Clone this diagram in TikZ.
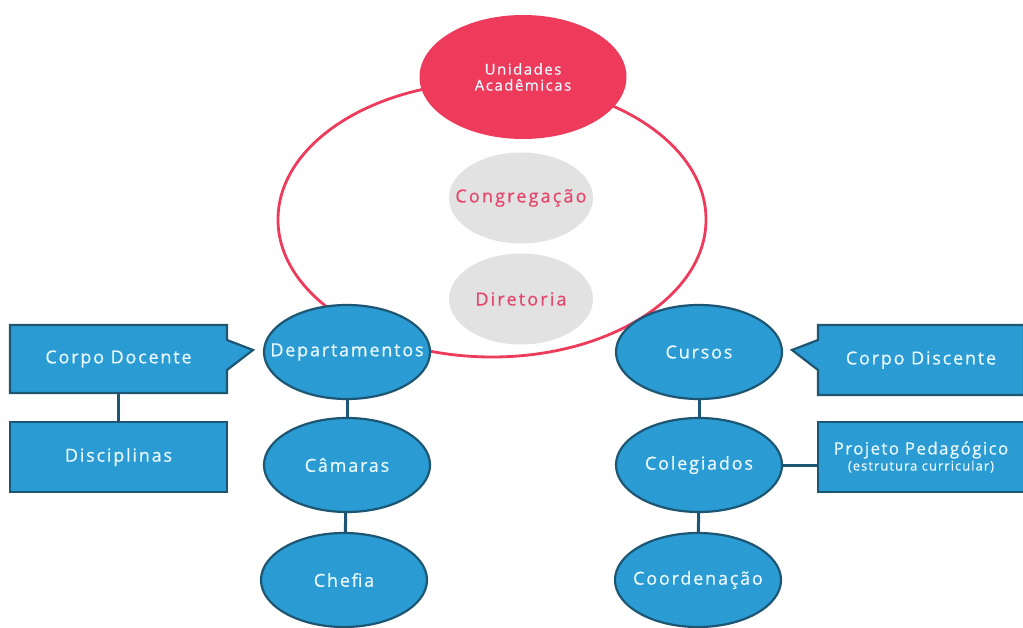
\documentclass[tikz,border=0pt]{standalone}
\usepackage{fontspec}
\setmainfont{Open Sans}[LetterSpace=10,FakeBold=0.6]
\usetikzlibrary{shapes.geometric,shapes.callouts}
\definecolor{bfill}{HTML}{2A9CD3}
\definecolor{bline}{HTML}{1D5673}
\definecolor{rcol}{HTML}{EE3B5B}
\definecolor{gfill}{HTML}{E2E2E2}
\definecolor{gtext}{HTML}{E4466C}
\definecolor{wtext}{HTML}{EAF8FF}
\newcommand{\cz}[1]{\makebox[0pt][c]{#1}}
\tikzset{
  bell/.style={ellipse, draw=bline, line width=2.2pt, fill=bfill, minimum width=166pt, minimum height=94pt, inner sep=0pt, text=wtext, font=\fontsize{18}{20}\selectfont},
  gell/.style={ellipse, fill=gfill, minimum width=144pt, minimum height=91pt, inner sep=0pt, text=gtext, font=\fontsize{18}{20}\selectfont\addfontfeature{LetterSpace=12}},
  bbox/.style={rectangle, draw=bline, line width=2.2pt, fill=bfill, inner sep=0pt, text=wtext, font=\fontsize{18}{20}\selectfont},
  bcall/.style={bbox, rectangle callout, callout pointer width=30pt},
  link/.style={draw=bline, line width=3pt},
}
\begin{document}
\begin{tikzpicture}[x=1pt,y=-1pt]
\useasboundingbox[fill=white] (0,0) rectangle (1023,628);
% big ring
\node[ellipse, draw=rcol, line width=2.8pt, minimum width=428pt, minimum height=275pt, inner sep=0pt] (ring) at (492,219.5) {};
% top
\node[ellipse, fill=rcol, minimum width=207pt, minimum height=124pt, inner sep=0pt, text=wtext, align=center, font=\fontsize{15}{17}\selectfont] (ua) at (523,77) {\cz{Unidades}\\[-1pt]\cz{Acadêmicas}};
\node[gell] (cong) at (521,198) {\cz{Congregação}};
\node[gell] (dir) at (521,299) {\cz{Diretoria}};
% left column
\node[bell] (dep) at (347,352) {\cz{Departamentos}};
\node[bell] (cam) at (347,465) {\cz{Câmaras}};
\node[bell] (chef) at (344,580) {\cz{Chefia}};
% right column
\node[bell] (cur) at (699,352) {\cz{Cursos}};
\node[bell] (col) at (699,465) {\cz{Colegiados}};
\node[bell] (coord) at (698,580) {\cz{Coordenação}};
% connectors
\draw[link] (dep) -- (cam);
\draw[link] (cam) -- (chef);
\draw[link] (cur) -- (col);
\draw[link] (col) -- (coord);
% boxes
\node[bcall, minimum width=217pt, minimum height=68pt, callout absolute pointer={(253,350)}] (cdoc) at (118.5,359) {Corpo Docente};
\node[bbox, minimum width=217pt, minimum height=70pt] (disc) at (118.5,457) {Disciplinas};
\node[bcall, minimum width=206pt, minimum height=70pt, callout absolute pointer={(792,350)}] (cdis) at (921,360) {Corpo Discente};
\node[bbox, minimum width=206pt, minimum height=70pt, align=center, font=\fontsize{17}{18}\selectfont\addfontfeature{LetterSpace=8}] (proj) at (921,457) {\cz{Projeto Pedagógico}\\[-2pt]\cz{\fontsize{13}{14}\selectfont (estrutura curricular)}};
\draw[link] (disc.north) -- (disc.north |- cdoc.south);
\draw[link] (col.east) -- (col.east -| proj.west);
\end{tikzpicture}
\end{document}
